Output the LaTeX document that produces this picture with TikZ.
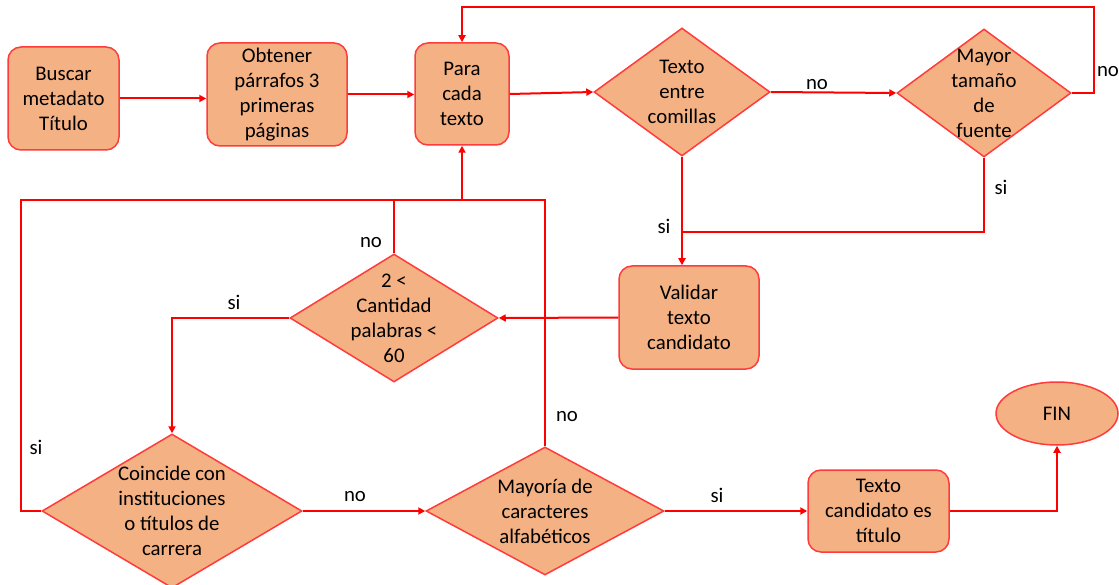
\documentclass[tikz,border=0pt]{standalone}
\usepackage{fontspec}
\setmainfont{Carlito}
\usetikzlibrary{shapes.geometric,arrows.meta}
\definecolor{boxfill}{HTML}{F4B183}
\definecolor{boxline}{HTML}{FF3B3B}
\definecolor{flow}{HTML}{FF0000}
\begin{document}
\begin{tikzpicture}[x=1pt,y=-1pt,
  font=\fontsize{20.8}{25}\selectfont,
  procbox/.style={draw=boxline,fill=boxfill,line width=1.5pt,rounded corners=13pt,
    align=center,inner sep=0pt},
  decision/.style={draw=boxline,fill=boxfill,line width=1.5pt,diamond,inner sep=0pt},
  endnode/.style={draw=boxline,fill=boxfill,line width=1.5pt,ellipse,inner sep=0pt},
  dtext/.style={align=center,inner sep=0pt},
  lbl/.style={inner sep=0pt},
  conn/.style={draw=flow,line width=2pt},
  arr/.style={conn,-{Triangle[length=7pt,width=7pt]}}
]
\useasboundingbox (0,0) rectangle (1119,585);

% process boxes
\node[procbox,minimum width=111pt,minimum height=103pt] (busc) at (63.5,98.5) {Buscar\\metadato\\Título};
\node[procbox,minimum width=140pt,minimum height=103pt] (obt) at (277,94.5) {Obtener\\párrafos 3\\primeras\\páginas};
\node[procbox,minimum width=94pt,minimum height=102pt] (para) at (462,94) {Para\\cada\\texto};
\node[procbox,minimum width=140pt,minimum height=103pt] (valid) at (689,317.5) {Validar\\texto\\candidato};
\node[procbox,minimum width=141pt,minimum height=82pt] (tcand) at (878.5,511) {Texto\\candidato es\\título};
\node[endnode,minimum width=122pt,minimum height=63pt] (fin) at (1057,413.5) {FIN};

% decisions (shape, then its text)
\node[decision,minimum width=176pt,minimum height=128pt] (comil) at (682,92) {};
\node[dtext] at (comil.center) {Texto\\entre\\comillas};
\node[decision,minimum width=174pt,minimum height=128pt] (fuente) at (984,93) {};
\node[dtext] at (fuente.center) {Mayor\\tamaño\\de\\fuente};
\node[decision,minimum width=208pt,minimum height=128pt] (cant) at (394,318) {};
\node[dtext] at (cant.center) {2 <\\Cantidad\\palabras <\\60};
\node[decision,minimum width=260pt,minimum height=154pt] (coinc) at (172,511) {};
\node[dtext] at (coinc.center) {Coincide con\\instituciones\\o títulos de\\carrera};
\node[decision,minimum width=238pt,minimum height=128pt] (mayor) at (545,511) {};
\node[dtext] at (mayor.center) {Mayoría de\\caracteres\\alfabéticos};

% junction points
\coordinate (topR) at (1094,7);
\coordinate (topL) at (462,7);
\coordinate (joinY) at (682,232);
\coordinate (backL) at (21,200);
\coordinate (backM) at (462,200);

% connectors
\draw[arr] (busc.east) -- (busc.east -| obt.west);
\draw[arr] (obt.east) -- (obt.east -| para.west);
\draw[arr] (para.east) -- (comil.west);
\draw[arr] (comil.east) -- (fuente.west);
\draw[arr] (fuente.east) -| (topR) -- (topL) -- (para.north);
\draw[arr] (comil.south) -- (comil.south |- valid.north);
\draw[conn] (fuente.south) |- (joinY);
\draw[arr] (valid.west) -- (cant.east);
\draw[arr] (cant.west) -| (coinc.north);
\draw[conn] (cant.north) -- (cant.north |- backM);
\draw[arr] (coinc.west) -| (backL) -- (backM) -- (para.south);
\draw[conn] (mayor.north) |- (backM);
\draw[arr] (coinc.east) -- (mayor.west);
\draw[arr] (mayor.east) -- (tcand.west);
\draw[arr] (tcand.east) -| (fin.south);

% branch labels
\node[lbl] (l1) at (817,85) {no};
\node[lbl] (l2) at (1108,72) {no};
\node[lbl] (l3) at (1001,187) {si};
\node[lbl] (l4) at (664,226) {si};
\node[lbl] (l5) at (371,243) {no};
\node[lbl] (l6) at (234,302) {si};
\node[lbl] (l7) at (36,447) {si};
\node[lbl] (l8) at (355,497) {no};
\node[lbl] (l9) at (567,417) {no};
\node[lbl] (l10) at (717,495) {si};
\end{tikzpicture}
\end{document}
